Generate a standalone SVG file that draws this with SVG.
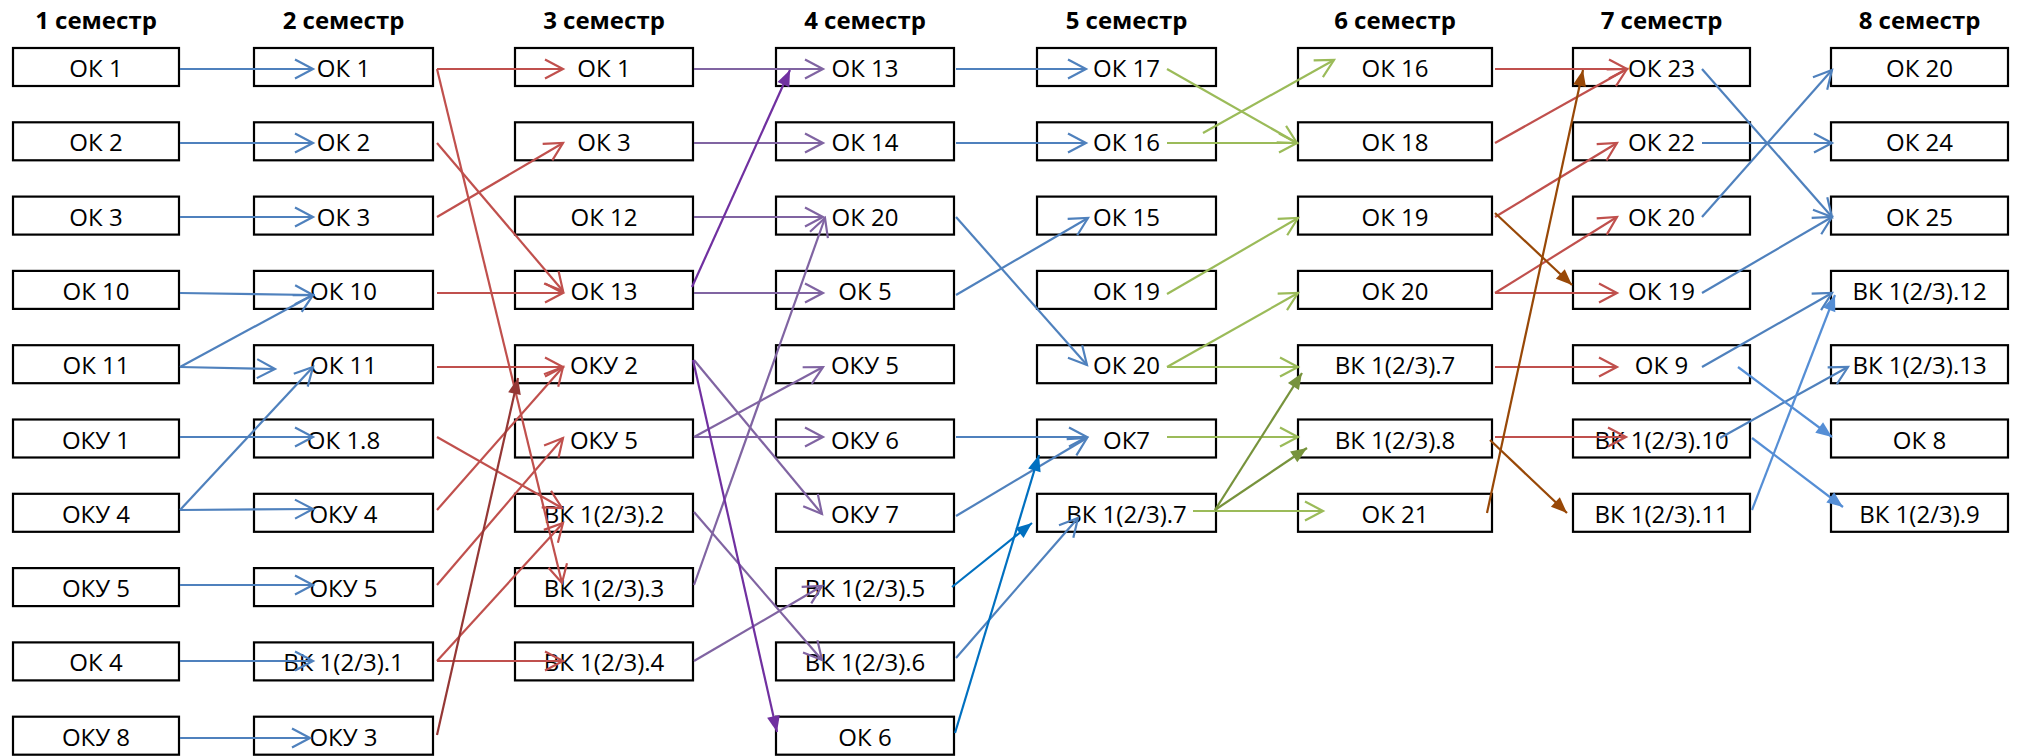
<svg xmlns="http://www.w3.org/2000/svg" width="2029" height="756" viewBox="0 0 2029 756">
<style>
.hdr{font-family:"Open Sans","Liberation Sans",sans-serif;font-weight:bold;font-size:24px;text-anchor:middle;fill:#000}
.node rect{fill:#fff;stroke:#000;stroke-width:2.2}
.node text{font-family:"Open Sans","Liberation Sans",sans-serif;font-size:24px;text-anchor:middle;fill:#000}
#connectors path{fill:none;stroke-width:2.2}
.cb{stroke:#4F81BD;marker-end:url(#ob)}
.cr{stroke:#C0504D;marker-end:url(#or)}
.cp{stroke:#8064A2;marker-end:url(#op)}
.cg{stroke:#9BBB59;marker-end:url(#og)}
.cdr{stroke:#953735;marker-end:url(#fdr)}
.cdp{stroke:#7030A0;marker-end:url(#fdp)}
.cbb{stroke:#0070C0;marker-end:url(#fbb)}
.col{stroke:#77933C;marker-end:url(#fol)}
.cbr{stroke:#984807;marker-end:url(#fbr)}
.cb2{stroke:#558ED5;marker-end:url(#fb2)}
</style>
<defs>
<marker id="ob" markerUnits="userSpaceOnUse" viewBox="-25 -15 30 30" markerWidth="30" markerHeight="30" refX="0" refY="0" orient="auto"><path d="M-18,-9.5 L0,0 L-18,9.5" fill="none" stroke="#4F81BD" stroke-width="2.2"/></marker>
<marker id="or" markerUnits="userSpaceOnUse" viewBox="-25 -15 30 30" markerWidth="30" markerHeight="30" refX="0" refY="0" orient="auto"><path d="M-18,-9.5 L0,0 L-18,9.5" fill="none" stroke="#C0504D" stroke-width="2.2"/></marker>
<marker id="op" markerUnits="userSpaceOnUse" viewBox="-25 -15 30 30" markerWidth="30" markerHeight="30" refX="0" refY="0" orient="auto"><path d="M-18,-9.5 L0,0 L-18,9.5" fill="none" stroke="#8064A2" stroke-width="2.2"/></marker>
<marker id="og" markerUnits="userSpaceOnUse" viewBox="-25 -15 30 30" markerWidth="30" markerHeight="30" refX="0" refY="0" orient="auto"><path d="M-18,-9.5 L0,0 L-18,9.5" fill="none" stroke="#9BBB59" stroke-width="2.2"/></marker>
<marker id="fdr" markerUnits="userSpaceOnUse" viewBox="-25 -15 30 30" markerWidth="30" markerHeight="30" refX="0" refY="0" orient="auto"><path d="M-16,-6.5 L0,0 L-16,6.5 Z" fill="#953735"/></marker>
<marker id="fdp" markerUnits="userSpaceOnUse" viewBox="-25 -15 30 30" markerWidth="30" markerHeight="30" refX="0" refY="0" orient="auto"><path d="M-16,-6.5 L0,0 L-16,6.5 Z" fill="#7030A0"/></marker>
<marker id="fbb" markerUnits="userSpaceOnUse" viewBox="-25 -15 30 30" markerWidth="30" markerHeight="30" refX="0" refY="0" orient="auto"><path d="M-16,-6.5 L0,0 L-16,6.5 Z" fill="#0070C0"/></marker>
<marker id="fol" markerUnits="userSpaceOnUse" viewBox="-25 -15 30 30" markerWidth="30" markerHeight="30" refX="0" refY="0" orient="auto"><path d="M-16,-6.5 L0,0 L-16,6.5 Z" fill="#77933C"/></marker>
<marker id="fbr" markerUnits="userSpaceOnUse" viewBox="-25 -15 30 30" markerWidth="30" markerHeight="30" refX="0" refY="0" orient="auto"><path d="M-16,-6.5 L0,0 L-16,6.5 Z" fill="#984807"/></marker>
<marker id="fb2" markerUnits="userSpaceOnUse" viewBox="-25 -15 30 30" markerWidth="30" markerHeight="30" refX="0" refY="0" orient="auto"><path d="M-16,-6.5 L0,0 L-16,6.5 Z" fill="#558ED5"/></marker>
</defs>
<rect x="0" y="0" width="2029" height="756" fill="#fff"/>
<g id="headers">
<text class="hdr" x="96" y="28.5">1 семестр</text>
<text class="hdr" x="343.5" y="28.5">2 семестр</text>
<text class="hdr" x="604" y="28.5">3 семестр</text>
<text class="hdr" x="865" y="28.5">4 семестр</text>
<text class="hdr" x="1126.5" y="28.5">5 семестр</text>
<text class="hdr" x="1395" y="28.5">6 семестр</text>
<text class="hdr" x="1661.5" y="28.5">7 семестр</text>
<text class="hdr" x="1919.5" y="28.5">8 семестр</text>
</g>
<!-- column 1 -->
<g id="s1-ok1" class="node"><rect x="13" y="48" width="166" height="38"/><text x="96" y="77">ОК 1</text></g>
<g id="s1-ok2" class="node"><rect x="13" y="122.3" width="166" height="38"/><text x="96" y="151.3">ОК 2</text></g>
<g id="s1-ok3" class="node"><rect x="13" y="196.6" width="166" height="38"/><text x="96" y="225.6">ОК 3</text></g>
<g id="s1-ok10" class="node"><rect x="13" y="270.9" width="166" height="38"/><text x="96" y="299.9">ОК 10</text></g>
<g id="s1-ok11" class="node"><rect x="13" y="345.2" width="166" height="38"/><text x="96" y="374.2">ОК 11</text></g>
<g id="s1-oku1" class="node"><rect x="13" y="419.5" width="166" height="38"/><text x="96" y="448.5">ОКУ 1</text></g>
<g id="s1-oku4" class="node"><rect x="13" y="493.8" width="166" height="38"/><text x="96" y="522.8">ОКУ 4</text></g>
<g id="s1-oku5" class="node"><rect x="13" y="568.1" width="166" height="38"/><text x="96" y="597.1">ОКУ 5</text></g>
<g id="s1-ok4" class="node"><rect x="13" y="642.4" width="166" height="38"/><text x="96" y="671.4">ОК 4</text></g>
<g id="s1-oku8" class="node"><rect x="13" y="716.7" width="166" height="38"/><text x="96" y="745.7">ОКУ 8</text></g>
<!-- column 2 -->
<g id="s2-ok1" class="node"><rect x="254" y="48" width="179" height="38"/><text x="343.5" y="77">ОК 1</text></g>
<g id="s2-ok2" class="node"><rect x="254" y="122.3" width="179" height="38"/><text x="343.5" y="151.3">ОК 2</text></g>
<g id="s2-ok3" class="node"><rect x="254" y="196.6" width="179" height="38"/><text x="343.5" y="225.6">ОК 3</text></g>
<g id="s2-ok10" class="node"><rect x="254" y="270.9" width="179" height="38"/><text x="343.5" y="299.9">ОК 10</text></g>
<g id="s2-ok11" class="node"><rect x="254" y="345.2" width="179" height="38"/><text x="343.5" y="374.2">ОК 11</text></g>
<g id="s2-ok18" class="node"><rect x="254" y="419.5" width="179" height="38"/><text x="343.5" y="448.5">ОК 1.8</text></g>
<g id="s2-oku4" class="node"><rect x="254" y="493.8" width="179" height="38"/><text x="343.5" y="522.8">ОКУ 4</text></g>
<g id="s2-oku5" class="node"><rect x="254" y="568.1" width="179" height="38"/><text x="343.5" y="597.1">ОКУ 5</text></g>
<g id="s2-vk1" class="node"><rect x="254" y="642.4" width="179" height="38"/><text x="343.5" y="671.4">ВК 1(2/3).1</text></g>
<g id="s2-oku3" class="node"><rect x="254" y="716.7" width="179" height="38"/><text x="343.5" y="745.7">ОКУ 3</text></g>
<!-- column 3 -->
<g id="s3-ok1" class="node"><rect x="515" y="48" width="178" height="38"/><text x="604" y="77">ОК 1</text></g>
<g id="s3-ok3" class="node"><rect x="515" y="122.3" width="178" height="38"/><text x="604" y="151.3">ОК 3</text></g>
<g id="s3-ok12" class="node"><rect x="515" y="196.6" width="178" height="38"/><text x="604" y="225.6">ОК 12</text></g>
<g id="s3-ok13" class="node"><rect x="515" y="270.9" width="178" height="38"/><text x="604" y="299.9">ОК 13</text></g>
<g id="s3-oku2" class="node"><rect x="515" y="345.2" width="178" height="38"/><text x="604" y="374.2">ОКУ 2</text></g>
<g id="s3-oku5" class="node"><rect x="515" y="419.5" width="178" height="38"/><text x="604" y="448.5">ОКУ 5</text></g>
<g id="s3-vk2" class="node"><rect x="515" y="493.8" width="178" height="38"/><text x="604" y="522.8">ВК 1(2/3).2</text></g>
<g id="s3-vk3" class="node"><rect x="515" y="568.1" width="178" height="38"/><text x="604" y="597.1">ВК 1(2/3).3</text></g>
<g id="s3-vk4" class="node"><rect x="515" y="642.4" width="178" height="38"/><text x="604" y="671.4">ВК 1(2/3).4</text></g>
<!-- column 4 -->
<g id="s4-ok13" class="node"><rect x="776" y="48" width="178" height="38"/><text x="865" y="77">ОК 13</text></g>
<g id="s4-ok14" class="node"><rect x="776" y="122.3" width="178" height="38"/><text x="865" y="151.3">ОК 14</text></g>
<g id="s4-ok20" class="node"><rect x="776" y="196.6" width="178" height="38"/><text x="865" y="225.6">ОК 20</text></g>
<g id="s4-ok5" class="node"><rect x="776" y="270.9" width="178" height="38"/><text x="865" y="299.9">ОК 5</text></g>
<g id="s4-oku5" class="node"><rect x="776" y="345.2" width="178" height="38"/><text x="865" y="374.2">ОКУ 5</text></g>
<g id="s4-oku6" class="node"><rect x="776" y="419.5" width="178" height="38"/><text x="865" y="448.5">ОКУ 6</text></g>
<g id="s4-oku7" class="node"><rect x="776" y="493.8" width="178" height="38"/><text x="865" y="522.8">ОКУ 7</text></g>
<g id="s4-vk5" class="node"><rect x="776" y="568.1" width="178" height="38"/><text x="865" y="597.1">ВК 1(2/3).5</text></g>
<g id="s4-vk6" class="node"><rect x="776" y="642.4" width="178" height="38"/><text x="865" y="671.4">ВК 1(2/3).6</text></g>
<g id="s4-ok6" class="node"><rect x="776" y="716.7" width="178" height="38"/><text x="865" y="745.7">ОК 6</text></g>
<!-- column 5 -->
<g id="s5-ok17" class="node"><rect x="1037" y="48" width="179" height="38"/><text x="1126.5" y="77">ОК 17</text></g>
<g id="s5-ok16" class="node"><rect x="1037" y="122.3" width="179" height="38"/><text x="1126.5" y="151.3">ОК 16</text></g>
<g id="s5-ok15" class="node"><rect x="1037" y="196.6" width="179" height="38"/><text x="1126.5" y="225.6">ОК 15</text></g>
<g id="s5-ok19" class="node"><rect x="1037" y="270.9" width="179" height="38"/><text x="1126.5" y="299.9">ОК 19</text></g>
<g id="s5-ok20" class="node"><rect x="1037" y="345.2" width="179" height="38"/><text x="1126.5" y="374.2">ОК 20</text></g>
<g id="s5-ok7" class="node"><rect x="1037" y="419.5" width="179" height="38"/><text x="1126.5" y="448.5">ОК7</text></g>
<g id="s5-vk7" class="node"><rect x="1037" y="493.8" width="179" height="38"/><text x="1126.5" y="522.8">ВК 1(2/3).7</text></g>
<!-- column 6 -->
<g id="s6-ok16" class="node"><rect x="1298" y="48" width="194" height="38"/><text x="1395" y="77">ОК 16</text></g>
<g id="s6-ok18" class="node"><rect x="1298" y="122.3" width="194" height="38"/><text x="1395" y="151.3">ОК 18</text></g>
<g id="s6-ok19" class="node"><rect x="1298" y="196.6" width="194" height="38"/><text x="1395" y="225.6">ОК 19</text></g>
<g id="s6-ok20" class="node"><rect x="1298" y="270.9" width="194" height="38"/><text x="1395" y="299.9">ОК 20</text></g>
<g id="s6-vk7" class="node"><rect x="1298" y="345.2" width="194" height="38"/><text x="1395" y="374.2">ВК 1(2/3).7</text></g>
<g id="s6-vk8" class="node"><rect x="1298" y="419.5" width="194" height="38"/><text x="1395" y="448.5">ВК 1(2/3).8</text></g>
<g id="s6-ok21" class="node"><rect x="1298" y="493.8" width="194" height="38"/><text x="1395" y="522.8">ОК 21</text></g>
<!-- column 7 -->
<g id="s7-ok23" class="node"><rect x="1573" y="48" width="177" height="38"/><text x="1661.5" y="77">ОК 23</text></g>
<g id="s7-ok22" class="node"><rect x="1573" y="122.3" width="177" height="38"/><text x="1661.5" y="151.3">ОК 22</text></g>
<g id="s7-ok20" class="node"><rect x="1573" y="196.6" width="177" height="38"/><text x="1661.5" y="225.6">ОК 20</text></g>
<g id="s7-ok19" class="node"><rect x="1573" y="270.9" width="177" height="38"/><text x="1661.5" y="299.9">ОК 19</text></g>
<g id="s7-ok9" class="node"><rect x="1573" y="345.2" width="177" height="38"/><text x="1661.5" y="374.2">ОК 9</text></g>
<g id="s7-vk10" class="node"><rect x="1573" y="419.5" width="177" height="38"/><text x="1661.5" y="448.5">ВК 1(2/3).10</text></g>
<g id="s7-vk11" class="node"><rect x="1573" y="493.8" width="177" height="38"/><text x="1661.5" y="522.8">ВК 1(2/3).11</text></g>
<!-- column 8 -->
<g id="s8-ok20" class="node"><rect x="1831" y="48" width="177" height="38"/><text x="1919.5" y="77">ОК 20</text></g>
<g id="s8-ok24" class="node"><rect x="1831" y="122.3" width="177" height="38"/><text x="1919.5" y="151.3">ОК 24</text></g>
<g id="s8-ok25" class="node"><rect x="1831" y="196.6" width="177" height="38"/><text x="1919.5" y="225.6">ОК 25</text></g>
<g id="s8-vk12" class="node"><rect x="1831" y="270.9" width="177" height="38"/><text x="1919.5" y="299.9">ВК 1(2/3).12</text></g>
<g id="s8-vk13" class="node"><rect x="1831" y="345.2" width="177" height="38"/><text x="1919.5" y="374.2">ВК 1(2/3).13</text></g>
<g id="s8-ok8" class="node"><rect x="1831" y="419.5" width="177" height="38"/><text x="1919.5" y="448.5">ОК 8</text></g>
<g id="s8-vk9" class="node"><rect x="1831" y="493.8" width="177" height="38"/><text x="1919.5" y="522.8">ВК 1(2/3).9</text></g>
<g id="connectors">
<!-- 1 -> 2 -->
<path class="cb" d="M180,69 L313,69"/>
<path class="cb" d="M180,143 L313,143"/>
<path class="cb" d="M180,217 L313,217"/>
<path class="cb" d="M180,293 L313,295"/>
<path class="cb" d="M180,367 L313,295"/>
<path class="cb" d="M180,367 L275,369"/>
<path class="cb" d="M180,510 L313,367"/>
<path class="cb" d="M180,437 L313,437"/>
<path class="cb" d="M180,510 L313,509"/>
<path class="cb" d="M180,585 L313,585"/>
<path class="cb" d="M180,661 L313,661"/>
<path class="cb" d="M180,738 L310,738"/>
<!-- 2 -> 3 -->
<path class="cr" d="M437,69 L563,69"/>
<path class="cr" d="M437,69 L562,583"/>
<path class="cr" d="M437,143 L563,291"/>
<path class="cr" d="M437,217 L563,143"/>
<path class="cr" d="M437,293 L563,293"/>
<path class="cr" d="M437,367 L563,367"/>
<path class="cr" d="M437,437 L562,508"/>
<path class="cr" d="M437,510 L563,367"/>
<path class="cr" d="M437,585 L563,438"/>
<path class="cr" d="M437,661 L563,523"/>
<path class="cr" d="M437,661 L563,661"/>
<path class="cdr" d="M437,735 L518,378"/>
<!-- 3 -> 4 -->
<path class="cp" d="M694,69 L823,69"/>
<path class="cp" d="M694,143 L823,143"/>
<path class="cp" d="M694,217 L823,217"/>
<path class="cp" d="M694,293 L823,293"/>
<path class="cp" d="M694,360 L822,514"/>
<path class="cp" d="M694,437 L823,367"/>
<path class="cp" d="M694,437 L823,437"/>
<path class="cp" d="M694,512 L822,660"/>
<path class="cp" d="M694,585 L825,218"/>
<path class="cp" d="M694,661 L822,586"/>
<path class="cdp" d="M692,287 L790,70"/>
<path class="cdp" d="M693,360 L777,732"/>
<!-- 4 -> 5 -->
<path class="cb" d="M956,69 L1086,69"/>
<path class="cb" d="M956,143 L1086,143"/>
<path class="cb" d="M956,217 L1087,365"/>
<path class="cb" d="M956,295 L1088,218"/>
<path class="cb" d="M956,437 L1087,437"/>
<path class="cb" d="M956,516 L1087,438"/>
<path class="cb" d="M956,658 L1078,518"/>
<path class="cbb" d="M952,587 L1032,523"/>
<path class="cbb" d="M955,733 L1039,455"/>
<!-- 5 -> 6 -->
<path class="cg" d="M1167,69 L1297,143"/>
<path class="cg" d="M1167,143 L1297,143"/>
<path class="cg" d="M1203,133 L1334,60"/>
<path class="cg" d="M1167,294 L1298,218"/>
<path class="cg" d="M1167,367 L1298,293"/>
<path class="cg" d="M1167,367 L1298,367"/>
<path class="cg" d="M1167,437 L1298,437"/>
<path class="cg" d="M1193,511 L1323,511"/>
<path class="col" d="M1215,510 L1302,373"/>
<path class="col" d="M1215,510 L1307,448"/>
<!-- 6 -> 7 -->
<path class="cr" d="M1495,69 L1627,69"/>
<path class="cr" d="M1495,143 L1627,69"/>
<path class="cr" d="M1495,217 L1617,143"/>
<path class="cr" d="M1495,293 L1617,217"/>
<path class="cr" d="M1495,293 L1617,293"/>
<path class="cr" d="M1495,367 L1617,367"/>
<path class="cr" d="M1495,437 L1626,437"/>
<path class="cbr" d="M1495,213 L1572,285"/>
<path class="cbr" d="M1490,440 L1567,513"/>
<path class="cbr" d="M1487,513 L1583,70"/>
<!-- 7 -> 8 -->
<path class="cb" d="M1702,69 L1832,217"/>
<path class="cb" d="M1702,143 L1832,143"/>
<path class="cb" d="M1702,217 L1832,70"/>
<path class="cb" d="M1702,293 L1832,217"/>
<path class="cb" d="M1702,367 L1832,293"/>
<path class="cb" d="M1720,438 L1848,367"/>
<path class="cb2" d="M1738,367 L1832,437"/>
<path class="cb2" d="M1752,438 L1843,507"/>
<path class="cb2" d="M1752,510 L1835,295"/>
</g>
</svg>
